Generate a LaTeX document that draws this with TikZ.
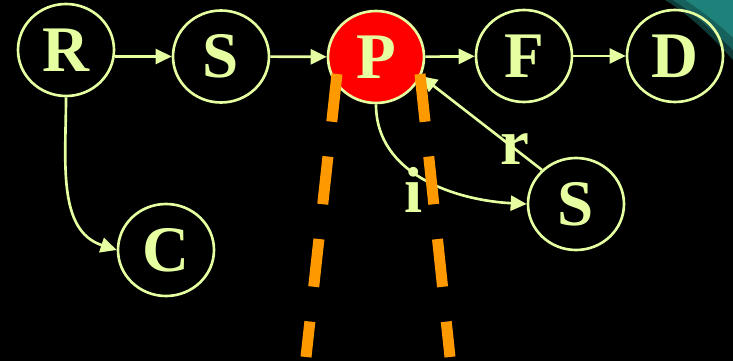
\documentclass[tikz,border=0pt]{standalone}
\usepackage{fontspec}
\setmainfont{Liberation Serif}
\usetikzlibrary{arrows.meta,shapes.geometric}
\definecolor{chalk}{RGB}{230,255,160}
\definecolor{cutorange}{RGB}{255,153,0}
\definecolor{seateal}{RGB}{30,130,122}
\tikzset{
  state/.style={ellipse,draw=chalk,line width=1.5pt,minimum width=1.92cm,minimum height=1.84cm,
    inner sep=0pt,text=chalk,font=\fontsize{37}{40}\selectfont\bfseries},
  arr/.style={draw=chalk,line width=1.5pt,-{Triangle[length=0.32cm,width=0.3cm]}},
  lbl/.style={text=chalk,font=\fontsize{37}{40}\selectfont\bfseries,inner sep=0pt},
  cut/.style={draw=cutorange,line width=0.22cm,dash pattern=on 0.96cm off 0.7cm}
}

\begin{document}
\begin{tikzpicture}
    \useasboundingbox (0,0) rectangle (14.66,-7.22);
    \fill[black] (0,0) rectangle (14.66,-7.22);
    % teal corner of the slide
    \fill[seateal!45!black] (13.30,0) .. controls (13.8,-0.3) and (14.25,-0.75) .. (14.66,-1.2) -- (14.66,0) -- cycle;
    \fill[seateal!75!black] (13.45,0) .. controls (13.9,-0.28) and (14.3,-0.65) .. (14.66,-1.0) -- (14.66,0) -- cycle;
    \fill[seateal] (13.70,0) .. controls (14.05,-0.22) and (14.38,-0.5) .. (14.66,-0.75) -- (14.66,0) -- cycle;

    \node[state] (R) at (1.32,-1.00) {R};
    \node[state] (S) at (4.42,-1.13) {S};
    \node[state,fill=red] (P) at (7.52,-1.14) {P};
    \node[state] (F) at (10.48,-1.12) {F};
    \node[state] (D) at (13.50,-1.12) {D};
    \node[state] (C) at (3.32,-5.00) {C};
    \node[state] (S2) at (11.52,-4.08) {S};

    \draw[arr] (R.east |- S) -- (S);
    \draw[arr] (S) -- (P);
    \draw[arr] (P) -- (F);
    \draw[arr] (F) -- (D);
    \draw[arr] (R.south) to[out=-90,in=162] (C.west);
    \draw[arr] (P.south) to[out=-90,in=177] (S2.west);
    \draw[arr] (S2.135) -- node[lbl,pos=0.22] (r) {r} (P.-23);
    \node[lbl] (i) at (8.28,-3.80) {i};

    % the cut
    \coordinate (cutLtop) at (6.74,-1.48);
    \coordinate (cutLbot) at (6.12,-7.14);
    \coordinate (cutRtop) at (8.40,-1.48);
    \coordinate (cutRbot) at (9.00,-7.14);
    \draw[cut] (cutLtop) -- (cutLbot);
    \draw[cut] (cutRtop) -- (cutRbot);
\end{tikzpicture}
\end{document}
